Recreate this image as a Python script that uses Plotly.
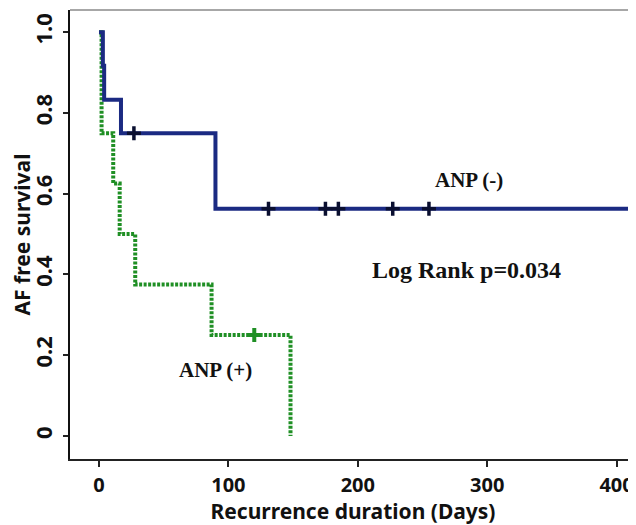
import plotly.graph_objects as go

# ---- data ----
neg_time = [0, 3, 4, 17, 90, 430]
neg_surv = [1.0, 0.917, 0.833, 0.75, 0.5625, 0.5625]
neg_cens_time = [27, 131, 175, 185, 227, 255]
neg_cens_surv = [0.75, 0.5625, 0.5625, 0.5625, 0.5625, 0.5625]

pos_time = [0, 2, 11, 16, 28, 87, 148]
pos_surv = [1.0, 0.75, 0.625, 0.5, 0.375, 0.25, 0.0]
pos_cens_time = [120]
pos_cens_surv = [0.25]

x_ticks = [0, 100, 200, 300, 400]
y_ticks = [0, 0.2, 0.4, 0.6, 0.8, 1.0]
y_tick_text = ["0", "0.2", "0.4", "0.6", "0.8", "1.0"]

BLUE = "#1b2a82"
GREEN = "#1f8f24"
SANS = "Noto Sans"
SERIF = "Liberation Serif"

fig = go.Figure()
fig.add_trace(go.Scatter(x=pos_time, y=pos_surv, mode="lines", line_shape="hv",
                         line=dict(color=GREEN, width=4, dash="3px,1.5px"),
                         showlegend=False, hoverinfo="skip"))
fig.add_trace(go.Scatter(x=neg_time, y=neg_surv, mode="lines", line_shape="hv",
                         line=dict(color=BLUE, width=4),
                         showlegend=False, hoverinfo="skip"))
fig.add_trace(go.Scatter(x=neg_cens_time, y=neg_cens_surv, mode="markers",
                         marker=dict(symbol="cross-thin", size=10,
                                     line=dict(color="#0a0f30", width=3.5)),
                         showlegend=False, hoverinfo="skip"))
fig.add_trace(go.Scatter(x=pos_cens_time, y=pos_cens_surv, mode="markers",
                         marker=dict(symbol="cross-thin", size=10,
                                     line=dict(color=GREEN, width=4)),
                         showlegend=False, hoverinfo="skip"))

fig.add_annotation(x=286, y=0.634, text="<b>ANP (-)</b>", showarrow=False,
                   font=dict(family=SERIF, size=21, color="#111"))
fig.add_annotation(x=284, y=0.411, text="<b>Log Rank p=0.034</b>", showarrow=False,
                   font=dict(family=SERIF, size=24, color="#111"))
fig.add_annotation(x=90, y=0.163, text="<b>ANP (+)</b>", showarrow=False,
                   font=dict(family=SERIF, size=21, color="#111"))

# top box line (gray)
fig.add_shape(type="line", xref="paper", yref="paper", x0=0, x1=1, y0=1, y1=1,
              line=dict(color="#8a8a8a", width=1.5))

# page body has an 8px margin, so the figure is sized/offset to compensate
fig.update_layout(
    width=628, height=517,
    margin=dict(l=62, r=0, t=2, b=66),
    paper_bgcolor="white", plot_bgcolor="white",
    showlegend=False,
)
fig.update_xaxes(range=[-22.4, 415], tickvals=x_ticks, showgrid=False, zeroline=False,
                 automargin=False,
                 showline=True, linecolor="#222", linewidth=2,
                 ticks="outside", ticklen=6, tickwidth=2, tickcolor="#222",
                 ticklabelstandoff=1,
                 tickfont=dict(family=SANS, size=20, color="#111", weight="bold"),
                 title=dict(text="Recurrence duration (Days)", standoff=8,
                            font=dict(family=SANS, size=21, color="#111", weight="bold")))
fig.update_yaxes(range=[-0.057, 1.055], tickvals=y_ticks, ticktext=y_tick_text,
                 tickangle=-90, showgrid=False, zeroline=False,
                 automargin=False,
                 showline=True, linecolor="#111", linewidth=2,
                 ticks="outside", ticklen=5, tickwidth=2, tickcolor="#222",
                 ticklabelstandoff=2,
                 tickfont=dict(family=SANS, size=22, color="#111", weight="bold"),
                 title=dict(text="AF free survival", standoff=0,
                            font=dict(family=SANS, size=21, color="#111", weight="bold")))

fig.write_html("out.html")
